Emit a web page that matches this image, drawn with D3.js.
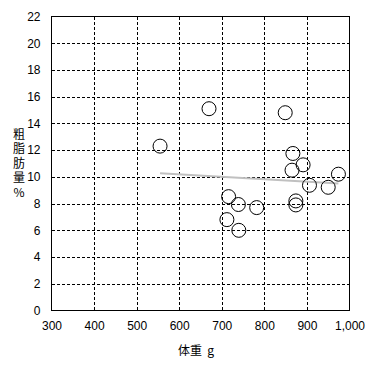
<!DOCTYPE html>
<html>
<head>
<meta charset="utf-8">
<script src="https://cdn.jsdelivr.net/npm/d3@7"></script>
<style>
  html, body { margin: 0; padding: 0; background: #fff; }
  svg { display: block; }
</style>
</head>
<body>
<svg id="chart" width="371" height="367"></svg>
<script>
const weights = [555, 670, 849, 867, 891, 865, 974, 906, 950, 874, 874, 716, 739, 782, 712, 740];
const fatPct  = [12.3, 15.1, 14.8, 11.75, 10.9, 10.5, 10.2, 9.37, 9.22, 8.2, 7.9, 8.52, 7.93, 7.7, 6.8, 6.0];
const trendX = [555, 974];
const trendY = [10.27, 9.5];
const xTicks = [300, 400, 500, 600, 700, 800, 900, 1000];
const yTicks = [0, 2, 4, 6, 8, 10, 12, 14, 16, 18, 20, 22];
const xTitle = "体重  g";
const yTitle = "粗脂肪量%";

const svg = d3.select("#chart");
const L = 51.5, R = 349.5, T = 16.5, B = 310.5;
const x = d3.scaleLinear().domain([300, 1000]).range([L, R]);
const y = d3.scaleLinear().domain([0, 22]).range([B, T]);

const fontNum = "'Liberation Sans', Arial, sans-serif";
const fontJP = "'Noto Sans CJK JP', sans-serif";

// grid
const g = svg.append("g");
g.selectAll(".vg").data(xTicks.slice(1, -1)).join("line")
  .attr("x1", d => Math.round(x(d)) + 0.5).attr("x2", d => Math.round(x(d)) + 0.5)
  .attr("y1", T).attr("y2", B)
  .attr("stroke", "#000").attr("stroke-width", 1).attr("stroke-dasharray", "3,2")
  .attr("shape-rendering", "crispEdges");
g.selectAll(".hg").data(yTicks.slice(1, -1)).join("line")
  .attr("x1", L).attr("x2", R)
  .attr("y1", d => Math.round(y(d)) + 0.5).attr("y2", d => Math.round(y(d)) + 0.5)
  .attr("stroke", "#000").attr("stroke-width", 1).attr("stroke-dasharray", "3,2")
  .attr("shape-rendering", "crispEdges");

// frame
svg.append("rect").attr("x", L).attr("y", T).attr("width", R - L).attr("height", B - T)
  .attr("fill", "none").attr("stroke", "#000").attr("stroke-width", 1)
  .attr("shape-rendering", "crispEdges");

// axes labels via d3 axes (no lines)
const xAxis = svg.append("g").attr("transform", `translate(0,${B})`)
  .call(d3.axisBottom(x).tickValues(xTicks).tickFormat(d3.format(",")).tickSize(0).tickPadding(11));
xAxis.select(".domain").remove();
xAxis.selectAll("text").attr("font-family", fontNum).attr("font-size", 12).attr("fill", "#000");

const yAxis = svg.append("g").attr("transform", `translate(${L},0)`)
  .call(d3.axisLeft(y).tickValues(yTicks).tickSize(0).tickPadding(11));
yAxis.select(".domain").remove();
yAxis.selectAll("text").attr("font-family", fontNum).attr("font-size", 12).attr("fill", "#000");

// trend line
svg.append("line")
  .attr("x1", x(trendX[0])).attr("y1", y(trendY[0]))
  .attr("x2", x(trendX[1])).attr("y2", y(trendY[1]))
  .attr("stroke", "#c0c0c0").attr("stroke-width", 2);

// points
svg.selectAll(".pt").data(weights.map((w, i) => [w, fatPct[i]])).join("circle")
  .attr("cx", d => x(d[0])).attr("cy", d => y(d[1])).attr("r", 7)
  .attr("fill", "none").attr("stroke", "#000").attr("stroke-width", 1);

// titles
svg.append("text").attr("x", 196).attr("y", 355).attr("text-anchor", "middle")
  .attr("font-family", fontJP).attr("font-size", 12).attr("fill", "#000")
  .attr("xml:space", "preserve").style("white-space", "pre").text(xTitle);

svg.append("text").attr("x", 19).attr("y", 128)
  .attr("font-family", fontJP).attr("font-size", 12).attr("fill", "#000")
  .style("writing-mode", "vertical-rl").style("text-orientation", "upright")
  .style("letter-spacing", "2.5px")
  .text(yTitle);
</script>
</body>
</html>
